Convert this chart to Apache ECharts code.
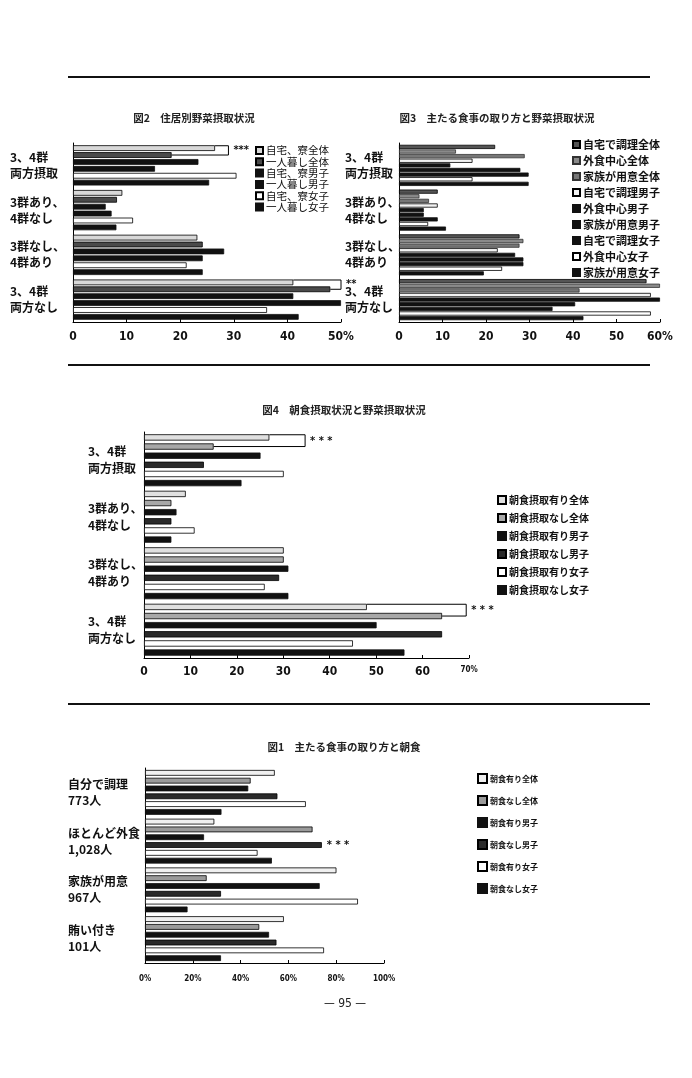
<!DOCTYPE html>
<html><head><meta charset="utf-8">
<script src="https://cdn.jsdelivr.net/npm/echarts@6/dist/echarts.min.js"></script>
<style>html,body{margin:0;padding:0;background:#fff}#c{width:692px;height:1078px}</style>
</head><body><div id="c"></div><script>
// ---- 図2 住居別野菜摂取状況 ----
const fig2Categories = ['3、4群\n両方摂取', '3群あり、\n4群なし', '3群なし、\n4群あり', '3、4群\n両方なし'];
const fig2Names = ['自宅、寮全体', '一人暮し全体', '自宅、寮男子', '一人暮し男子', '自宅、寮女子', '一人暮し女子'];
const fig2_homeAll = [26.5, 9.2, 23.2, 41.1];
const fig2_aloneAll = [18.4, 8.2, 24.2, 48.0];
const fig2_homeMale = [23.4, 6.1, 28.2, 41.1];
const fig2_aloneMale = [15.3, 7.2, 24.2, 50.0];
const fig2_homeFemale = [30.5, 11.2, 21.2, 36.2];
const fig2_aloneFemale = [25.4, 8.1, 24.2, 42.1];
const fig2Ticks = [0, 10, 20, 30, 40, 50];
const fig2Sig = [[29.0, 0, 0, 1], [50.0, 3, 0, 1]];
const fig2SigText = ['***', '**'];

// ---- 図3 主たる食事の取り方と野菜摂取状況 ----
const fig3Categories = ['3、4群\n両方摂取', '3群あり、\n4群なし', '3群なし、\n4群あり', '3、4群\n両方なし'];
const fig3Names = ['自宅で調理全体', '外食中心全体', '家族が用意全体', '自宅で調理男子', '外食中心男子', '家族が用意男子', '自宅で調理女子', '外食中心女子', '家族が用意女子'];
const fig3_cookAll = [22.1, 8.9, 27.7, 56.9];
const fig3_outAll = [13.1, 4.7, 28.6, 60.0];
const fig3_familyAll = [28.9, 6.9, 27.7, 41.5];
const fig3_cookMale = [16.9, 8.9, 22.7, 57.9];
const fig3_outMale = [11.8, 5.7, 26.7, 60.0];
const fig3_familyMale = [27.9, 5.7, 28.6, 40.5];
const fig3_cookFemale = [29.8, 8.9, 28.6, 35.3];
const fig3_outFemale = [16.9, 6.7, 23.7, 57.9];
const fig3_familyFemale = [29.8, 10.8, 19.5, 42.4];
const fig3Ticks = [0, 10, 20, 30, 40, 50, 60];

// ---- 図4 朝食摂取状況と野菜摂取状況 ----
const fig4Categories = ['3、4群\n両方摂取', '3群あり、\n4群なし', '3群なし、\n4群あり', '3、4群\n両方なし'];
const fig4Names = ['朝食摂取有り全体', '朝食摂取なし全体', '朝食摂取有り男子', '朝食摂取なし男子', '朝食摂取有り女子', '朝食摂取なし女子'];
const fig4_yesAll = [27.0, 9.0, 30.1, 48.0];
const fig4_noAll = [15.0, 5.9, 30.1, 64.2];
const fig4_yesMale = [25.1, 7.0, 31.1, 50.1];
const fig4_noMale = [12.9, 5.9, 29.1, 64.2];
const fig4_yesFemale = [30.1, 10.9, 26.0, 45.0];
const fig4_noFemale = [21.0, 5.9, 31.1, 56.1];
const fig4Ticks = [0, 10, 20, 30, 40, 50, 60, 70];
const fig4Sig = [[34.7, 0, 0, 1], [69.4, 3, 0, 1]];
const fig4SigText = ['* * *', '* * *'];

// ---- 図1 主たる食事の取り方と朝食 ----
const fig1Categories = ['自分で調理\n773人', 'ほとんど外食\n1,028人', '家族が用意\n967人', '賄い付き\n101人'];
const fig1Names = ['朝食有り全体', '朝食なし全体', '朝食有り男子', '朝食なし男子', '朝食有り女子', '朝食なし女子'];
const fig1_yesAll = [54.3, 29.0, 80.1, 58.1];
const fig1_noAll = [44.2, 70.1, 25.8, 47.8];
const fig1_yesMale = [43.2, 24.7, 73.1, 51.9];
const fig1_noMale = [55.4, 74.0, 31.8, 55.0];
const fig1_yesFemale = [67.3, 47.1, 89.1, 74.9];
const fig1_noFemale = [32.0, 53.1, 17.8, 31.8];
const fig1Ticks = [0, 20, 40, 60, 80, 100];
const fig1Sig = [[74.0, 1, 3, 3]];
const fig1SigText = ['* * *'];

const FONT = '"Noto Sans CJK JP", "Noto Sans", sans-serif';
const NUMFONT = '"DejaVu Sans Condensed", "DejaVu Sans", sans-serif';

const panels = [
  { cats: fig2Categories, names: fig2Names,
    vals: [fig2_homeAll, fig2_aloneAll, fig2_homeMale, fig2_aloneMale, fig2_homeFemale, fig2_aloneFemale],
    styles: [['#d8d8d8','#000'], ['#4a4a4a','#000'], ['#111','#111'], ['#111','#111'], ['#fff','#000'], ['#111','#111']],
    ticks: fig2Ticks, fmt: v => v === 50 ? '50%' : String(v), tickFont: 12, tickMargin: 9,
    grid: { left: 73, top: 143, width: 268, height: 179 },
    catGap: 0.1, barGap: 0.2, labelMargin: 63, labelFont: 12, labelLH: 16,
    legend: { left: 255, top: 145, font: 10.5, lh: 11, gap: 0.3, icon: 7, weight: 'normal' },
    sig: fig2Sig, sigText: fig2SigText },
  { cats: fig3Categories, names: fig3Names,
    vals: [fig3_cookAll, fig3_outAll, fig3_familyAll, fig3_cookMale, fig3_outMale, fig3_familyMale, fig3_cookFemale, fig3_outFemale, fig3_familyFemale],
    styles: [['#555','#000'], ['#8a8a8a','#333'], ['#777','#333'], ['#f2f2f2','#000'], ['#111','#111'], ['#111','#111'], ['#111','#111'], ['#fff','#000'], ['#111','#111']],
    ticks: fig3Ticks, fmt: v => v === 60 ? '60%' : String(v), tickFont: 12, tickMargin: 9,
    grid: { left: 399, top: 143, width: 261, height: 179 },
    catGap: 0.08, barGap: 0.1, labelMargin: 54, labelFont: 12, labelLH: 16,
    legend: { left: 572, top: 138, font: 11, lh: 13, gap: 3, icon: 7, weight: 'bold' },
    sig: [], sigText: [] },
  { cats: fig4Categories, names: fig4Names,
    vals: [fig4_yesAll, fig4_noAll, fig4_yesMale, fig4_noMale, fig4_yesFemale, fig4_noFemale],
    styles: [['#e0e0e0','#000'], ['#a8a8a8','#000'], ['#111','#111'], ['#2a2a2a','#000'], ['#fff','#000'], ['#111','#111']],
    ticks: fig4Ticks, fmt: v => v === 70 ? '{s|70%}' : String(v), tickFont: 12, tickMargin: 8,
    grid: { left: 144, top: 432, width: 325, height: 226 },
    catGap: 0.08, barGap: 0.45, labelMargin: 56, labelFont: 12, labelLH: 17,
    legend: { left: 497, top: 494, font: 10, lh: 12, gap: 6, icon: 8, weight: 'bold' },
    sig: fig4Sig, sigText: fig4SigText },
  { cats: fig1Categories, names: fig1Names,
    vals: [fig1_yesAll, fig1_noAll, fig1_yesMale, fig1_noMale, fig1_yesFemale, fig1_noFemale],
    styles: [['#f0f0f0','#000'], ['#9a9a9a','#000'], ['#111','#111'], ['#2a2a2a','#000'], ['#fff','#000'], ['#111','#111']],
    ticks: fig1Ticks, fmt: v => v + '%', tickFont: 8, tickMargin: 12,
    grid: { left: 145, top: 768, width: 239, height: 195 },
    catGap: 0.08, barGap: 0.35, labelMargin: 77, labelFont: 12, labelLH: 16,
    legend: { left: 477, top: 773, font: 8, lh: 10, gap: 11, icon: 9, weight: 'bold' },
    sig: fig1Sig, sigText: fig1SigText }
];

const option = { animation: false, backgroundColor: '#fff', textStyle: { fontFamily: FONT },
  grid: [], xAxis: [], yAxis: [], series: [], legend: [], graphic: [] };

panels.forEach((p, gi) => {
  const maxV = p.ticks[p.ticks.length - 1];
  const step = p.ticks[1] - p.ticks[0];
  option.grid.push(Object.assign({ containLabel: false }, p.grid));
  option.xAxis.push({ type: 'value', gridIndex: gi, min: p.ticks[0], max: maxV, interval: step,
    splitLine: { show: false },
    axisLine: { show: true, lineStyle: { color: '#000', width: 1 } },
    axisTick: { show: true, inside: true, length: 3, lineStyle: { color: '#000' } },
    axisLabel: { formatter: p.fmt, fontSize: p.tickFont, fontWeight: 'bold', color: '#111', margin: p.tickMargin,
      fontFamily: NUMFONT, rich: { s: { fontSize: 8, fontWeight: 'bold', fontFamily: NUMFONT, color: '#111' } } } });
  option.yAxis.push({ type: 'category', gridIndex: gi, data: p.cats, inverse: true,
    axisLine: { show: true, lineStyle: { color: '#000', width: 1 } },
    axisTick: { show: false },
    axisLabel: { align: 'left', margin: p.labelMargin, fontSize: p.labelFont, fontWeight: 'bold',
      lineHeight: p.labelLH, color: '#111', fontFamily: FONT } });
  p.names.forEach((nm, si) => {
    option.series.push({ type: 'bar', name: nm, xAxisIndex: gi, yAxisIndex: gi, data: p.vals[si],
      barCategoryGap: (p.catGap * 100) + '%', barGap: (p.barGap * 100) + '%',
      itemStyle: { color: p.styles[si][0], borderColor: p.styles[si][1], borderWidth: 0.8 } });
  });
  option.legend.push({ orient: 'vertical', left: p.legend.left, top: p.legend.top, data: p.names,
    icon: 'rect', itemWidth: p.legend.icon, itemHeight: p.legend.icon, itemGap: p.legend.gap,
    selectedMode: false, padding: 0,
    textStyle: { fontSize: p.legend.font, lineHeight: p.legend.lh, fontWeight: p.legend.weight, color: '#111', fontFamily: FONT, padding: [0, 0, 0, -2] } });
  if (p.sig.length) {
    const n = p.names.length;
    option.series.push({ type: 'custom', name: 'sig' + gi, xAxisIndex: gi, yAxisIndex: gi,
      data: p.sig, encode: { x: 0, y: 1 }, silent: true, z: 5,
      renderItem: (params, api) => {
        const to = api.value(0), cat = api.value(1), r0 = api.value(2), r1 = api.value(3);
        const c = api.coord([to, cat]);
        const band = api.size([0, 1])[1];
        const remained = band * (1 - p.catGap);
        const w = remained / (n + (n - 1) * p.barGap);
        const sum = n * w + (n - 1) * w * p.barGap;
        const yc = i => c[1] - sum / 2 + i * w * (1 + p.barGap) + w / 2;
        const x0 = api.coord([p.vals[r0][cat], cat])[0];
        const x1 = api.coord([p.vals[r1][cat], cat])[0];
        const text = p.sigText[params.dataIndex];
        const children = [];
        if (r0 !== r1) {
          const y0 = yc(r0) - w / 2 + 0.5, y1 = yc(r1);
          children.push({ type: 'polyline', shape: { points: [[x0, y0], [c[0], y0], [c[0], y1], [x1, y1]] },
            style: { stroke: '#000', lineWidth: 1, fill: null } });
          children.push({ type: 'text', style: { x: c[0] + 5, y: (y0 + y1) / 2, text: text, fill: '#111',
            fontSize: 11, fontWeight: 'bold', verticalAlign: 'middle', align: 'left', fontFamily: NUMFONT } });
        } else {
          children.push({ type: 'text', style: { x: c[0] + 5, y: yc(r0), text: text, fill: '#111',
            fontSize: 11, fontWeight: 'bold', verticalAlign: 'middle', align: 'left', fontFamily: NUMFONT } });
        }
        return { type: 'group', children: children };
      } });
  }
});

// page decorations: titles, rules, page number
const titles = [['図2　住居別野菜摂取状況', 194, 118], ['図3　主たる食事の取り方と野菜摂取状況', 497, 118],
  ['図4　朝食摂取状況と野菜摂取状況', 344, 410], ['図1　主たる食事の取り方と朝食', 344, 747]];
titles.forEach(t => option.graphic.push({ type: 'text', x: t[1], y: t[2],
  style: { text: t[0], fontSize: 10.5, fontWeight: 'bold', fill: '#222', align: 'center', verticalAlign: 'middle', fontFamily: FONT } }));
[77, 365, 704].forEach(y => option.graphic.push({ type: 'line', shape: { x1: 68, y1: y, x2: 650, y2: y },
  style: { stroke: '#111', lineWidth: 2 } }));
option.graphic.push({ type: 'text', x: 345, y: 1004,
  style: { text: '— 95 —', fontSize: 12, fill: '#222', align: 'center', verticalAlign: 'middle', fontFamily: NUMFONT } });

const chart = echarts.init(document.getElementById('c'), null, { renderer: 'canvas' });
chart.setOption(option);
</script></body></html>
